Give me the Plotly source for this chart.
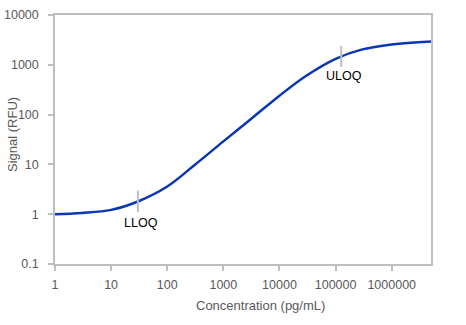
import math
import plotly.graph_objects as go

# Standard curve
conc = [1, 3, 10, 30, 100, 300, 1000, 3000, 10000, 30000, 100000, 300000, 1000000, 5000000]
signal = [1.0, 1.06, 1.22, 1.8, 3.6, 9.5, 29, 79, 240, 603, 1320, 2040, 2570, 2950]

# Limits of quantification
loq_names = ["LLOQ", "ULOQ"]
loq_conc = [30, 126000]
loq_low = [1.1, 910]
loq_high = [3.0, 2400]
loq_label_y = [0.68, 590]

x_ticks = [1, 10, 100, 1000, 10000, 100000, 1000000]
x_ticktext = ["1", "10", "100", "1000", "10000", "100000", "1000000"]
y_ticks = [0.1, 1, 10, 100, 1000, 10000]
y_ticktext = ["0.1", "1", "10", "100", "1000", "10000"]

FONT = "Liberation Sans"
GRAY = "#BFBFBF"
TXT = "#595959"

fig = go.Figure()
fig.add_trace(go.Scatter(x=conc, y=signal, mode="lines",
                         line=dict(color="#0A37B4", width=2.5, shape="spline", smoothing=1.0),
                         hoverinfo="skip"))
for i, name in enumerate(loq_names):
    fig.add_trace(go.Scatter(x=[loq_conc[i], loq_conc[i]], y=[loq_low[i], loq_high[i]],
                             mode="lines", line=dict(color=GRAY, width=2),
                             hoverinfo="skip"))
    fig.add_annotation(x=math.log10(loq_conc[i]), y=math.log10(loq_label_y[i]),
                       text=name, showarrow=False, xshift=3,
                       font=dict(family=FONT, size=12.5, color="#000000"))

fig.update_layout(
    width=466, height=325,
    margin=dict(l=55, r=35, t=15, b=61),
    plot_bgcolor="white", paper_bgcolor="white",
    showlegend=False,
    font=dict(family=FONT, size=12, color=TXT),
    xaxis=dict(type="log", range=[0, 6.70], tickvals=x_ticks, ticktext=x_ticktext,
               showgrid=False, zeroline=False, showline=True, linecolor=GRAY,
               linewidth=1.5, mirror=True, ticks="outside", ticklen=5,
               tickcolor=GRAY, tickwidth=1.5, automargin=False, ticklabelstandoff=3,
               tickfont=dict(family=FONT, size=12.5, color=TXT)),
    yaxis=dict(type="log", range=[-1, 4], tickvals=y_ticks, ticktext=y_ticktext,
               showgrid=False, zeroline=False, showline=True, linecolor=GRAY,
               linewidth=1.5, mirror=True, ticks="outside", ticklen=5,
               tickcolor=GRAY, tickwidth=1.5, automargin=False, ticklabelstandoff=7,
               tickfont=dict(family=FONT, size=12.5, color=TXT)),
)
fig.add_annotation(xref="paper", yref="paper", x=(260 - 55) / 376, y=-(305 - 264) / 249,
                   xanchor="center", yanchor="middle",
                   text="Concentration (pg/mL)", showarrow=False,
                   font=dict(family=FONT, size=13, color=TXT))
fig.add_annotation(xref="paper", yref="paper", x=-(55 - 12) / 376, y=(264 - 135) / 249,
                   xanchor="center", yanchor="middle",
                   text="Signal (RFU)", showarrow=False, textangle=-90,
                   font=dict(family=FONT, size=13, color=TXT))

fig.write_html("out.html")
